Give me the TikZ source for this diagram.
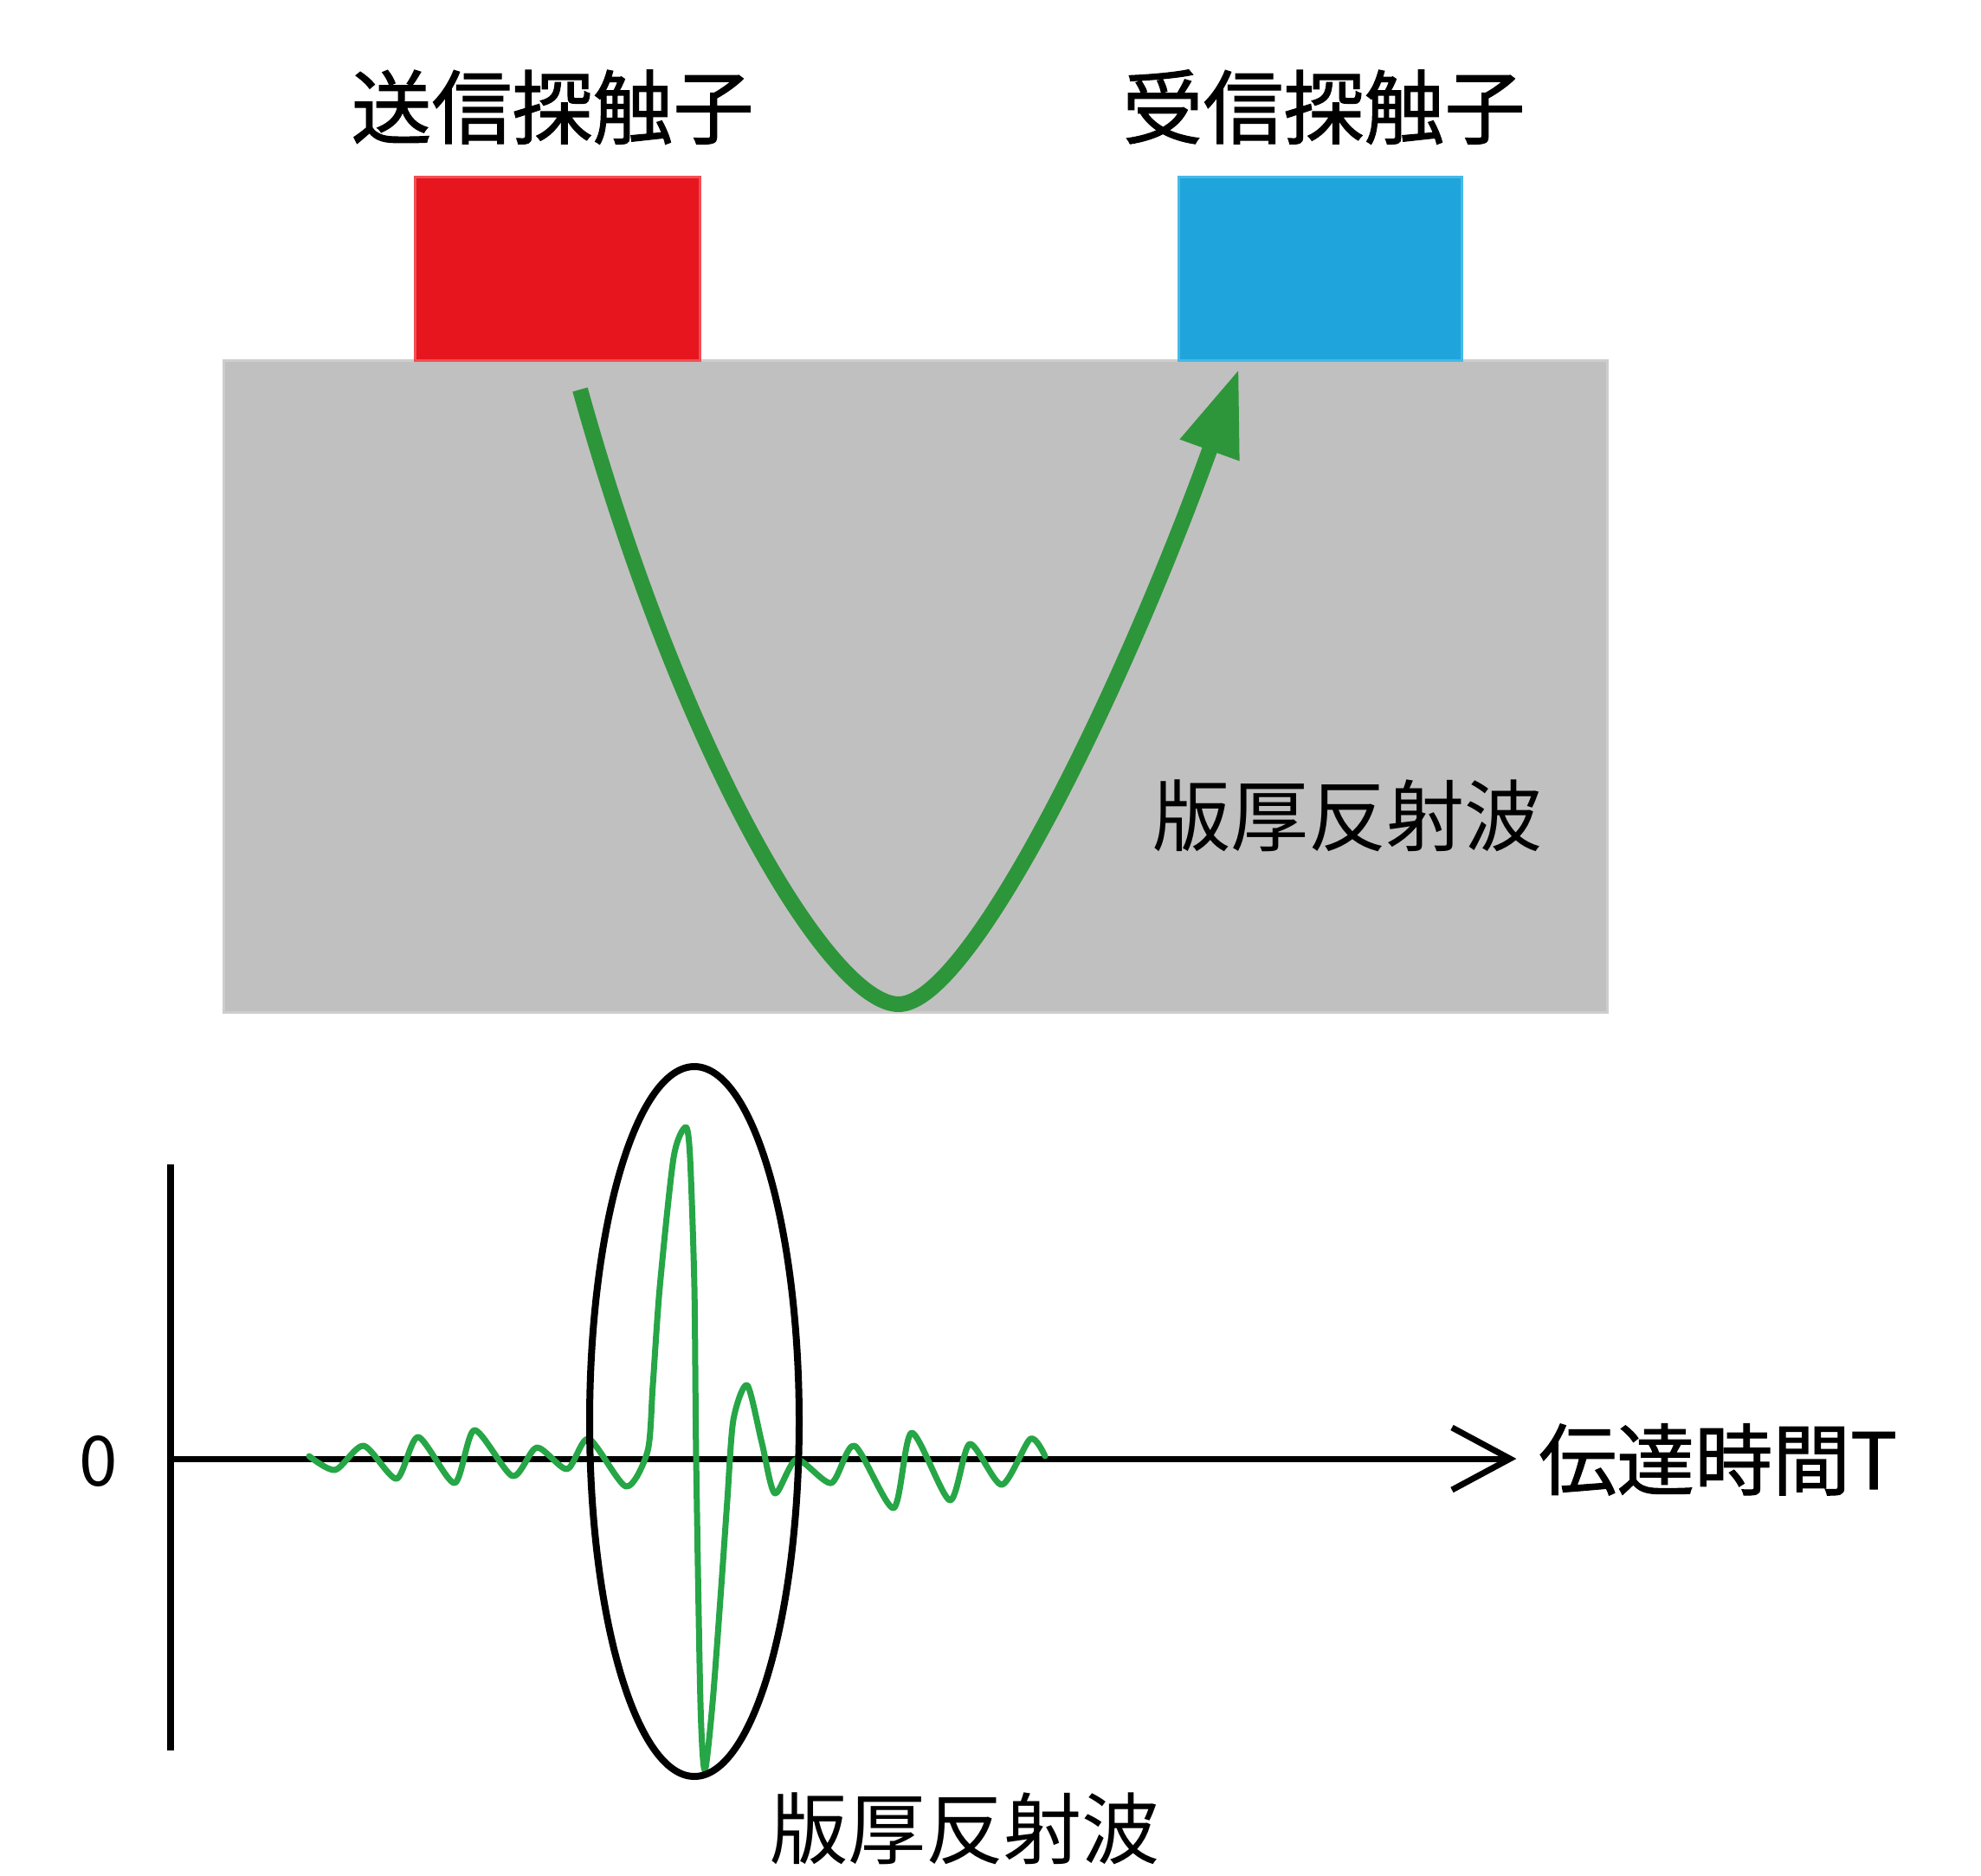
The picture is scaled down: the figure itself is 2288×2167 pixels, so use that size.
\documentclass[tikz,border=0pt]{standalone}
\usepackage{fontspec}
\newfontfamily\jp{Noto Sans CJK JP}
\newfontfamily\jpb{Noto Sans CJK JP}[FakeBold=1.2]
\usetikzlibrary{arrows.meta,shapes.geometric}
\definecolor{probeRed}{RGB}{231,21,30}
\definecolor{probeRedEdge}{RGB}{240,80,85}
\definecolor{probeBlue}{RGB}{31,165,220}
\definecolor{probeBlueEdge}{RGB}{70,185,230}
\definecolor{plateGray}{RGB}{192,192,192}
\definecolor{plateEdge}{RGB}{205,205,205}
\definecolor{pathGreen}{RGB}{45,150,58}
\definecolor{waveGreen}{RGB}{38,166,70}
\begin{document}
\begin{tikzpicture}[x=1pt,y=-1pt,
  title/.style={inner sep=0pt, anchor=base, font=\jpb\fontsize{93pt}{100pt}\selectfont},
  label/.style={inner sep=0pt, anchor=base, font=\jp\fontsize{90pt}{96pt}\selectfont},
  probe/.style={line width=3pt}]
\useasboundingbox (0,0) rectangle (2288,2167);
% plate
\fill[plateGray, draw=plateEdge, line width=3pt] (258,416) rectangle (1856,1169);
% probes
\filldraw[probe, fill=probeRed, draw=probeRedEdge] (479,205) rectangle (808,416);
\filldraw[probe, fill=probeBlue, draw=probeBlueEdge] (1361,205) rectangle (1688,416);
% titles
\node[title] (txlabel) at (638,159) {送信探触子};
\node[title] (rxlabel) at (1529,159) {受信探触子};
% path of wave
\coordinate (pstart) at (670,450);
\coordinate (pbottom) at (1038,1160);
\coordinate (pend) at (1431,426);
\draw[pathGreen, line width=18pt, -{Triangle[length=100pt,width=68pt]}]
  (pstart) .. controls (790,880) and (960,1160) .. (pbottom)
           .. controls (1120,1160) and (1295,802) .. (pend);
\node[label] (innerlabel) at (1556,976) {版厚反射波};
% axes
\coordinate (vtop) at (197,1345);
\coordinate (vbot) at (197,2022);
\coordinate (origin) at (197,1685);
\coordinate (tip) at (1744,1685);
\draw[line width=8pt] (vtop) -- (vbot);
\draw[line width=7pt] (origin) -- (tip);
\draw[line width=7pt, line join=miter] (1677,1649) -- (tip) -- (1677,1721);
\node[inner sep=0pt, anchor=base, font=\jp\fontsize{80pt}{86pt}\selectfont] (zero) at (114,1716) {0};
\node[inner sep=0pt, anchor=base west, font=\jpb\fontsize{90pt}{96pt}\selectfont] (tlabel) at (1777,1720) {伝達時間T};
% waveform
\draw[waveGreen, line width=7pt, line join=round, line cap=round]
  plot[smooth, tension=0.45] coordinates {(357,1682) (387,1698) (420,1670) (458,1708) (483,1660) (525,1713) (548,1652) (592,1705) (620,1672) (655,1697) (680,1662) (723,1717) (748,1676) (754,1600) (762,1487) (778,1337) (792,1302) (797,1337) (802,1487) (804,1683) (809,1967) (814,2045) (823,1967) (833,1833) (840,1733) (847,1640) (863,1600) (880,1667) (895,1725) (920,1686) (960,1713) (987,1670) (1032,1742) (1053,1655) (1097,1733) (1120,1668) (1157,1715) (1190,1662) (1207,1682)};
% ellipse
\node[draw, ellipse, line width=8pt, inner sep=0pt, minimum width=242pt, minimum height=820pt] (ring) at (802,1642) {};
\node[label] (lowerlabel) at (1114,2146) {版厚反射波};
\end{tikzpicture}
\end{document}
